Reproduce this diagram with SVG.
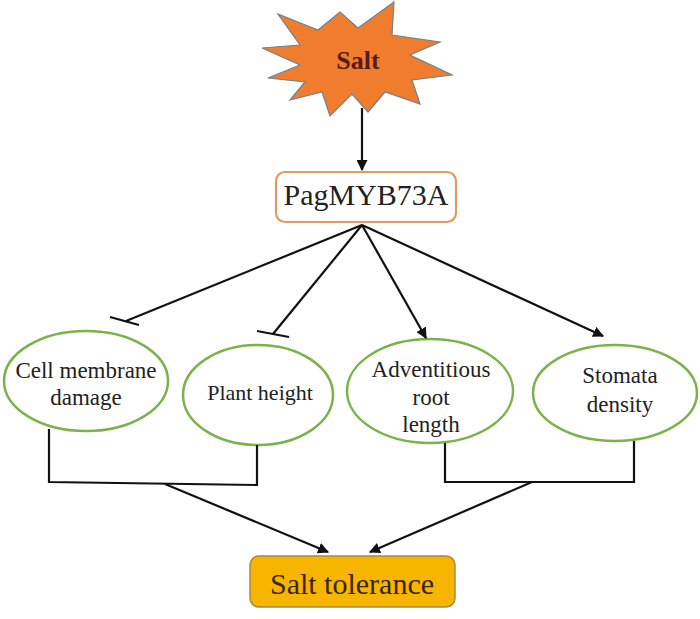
<svg xmlns="http://www.w3.org/2000/svg" width="700" height="619" viewBox="0 0 700 619">
<defs>
<style>
text{font-family:'Liberation Serif','Times New Roman',serif}
.t{fill:#222;text-anchor:middle}
.ell{fill:#fff;stroke:#7bb24a;stroke-width:2.5}
.ln{stroke:#111;stroke-width:2.2;fill:none}
</style>
<marker id="ah" viewBox="0 0 10 10" refX="9" refY="5" markerWidth="5" markerHeight="5" orient="auto" markerUnits="strokeWidth">
<path d="M0,0 L10,5 L0,10 z" fill="#111"/>
</marker>
</defs>
<rect width="700" height="619" fill="#fff"/>
<g font-family="Liberation Serif, serif">
<g id="salt">
<polygon points="278,14 318,30 340,12 358,28 394,2 392,35 440,42 410,55 452,75 412,80 420,104 385,92 368,112 352,94 330,116 322,92 290,100 305,82 268,78 300,65 262,48 300,45" fill="#f07d2e" stroke="#6f7f95" stroke-width="1.2"/>
<text class="t" x="358" y="69" font-size="26" font-weight="bold" style="fill:#5a1c0e">Salt</text>
</g>
<g id="pagmyb73a">
<rect x="276" y="172" width="180" height="50" rx="9" fill="#fff" stroke="#e39a62" stroke-width="2.2"/>
<text class="t" x="366" y="205" font-size="30">PagMYB73A</text>
</g>
<g id="cell-membrane">
<ellipse class="ell" cx="86" cy="381" rx="82" ry="50"/>
<text class="t" x="86" y="378" font-size="23">Cell membrane</text>
<text class="t" x="86" y="405" font-size="23">damage</text>
</g>
<g id="plant-height">
<ellipse class="ell" cx="258" cy="395" rx="75" ry="50"/>
<text class="t" x="260" y="400" font-size="22">Plant height</text>
</g>
<g id="adventitious">
<ellipse class="ell" cx="430" cy="391" rx="83" ry="52"/>
<text class="t" x="431" y="377" font-size="23">Adventitious</text>
<text class="t" x="431" y="405" font-size="23">root</text>
<text class="t" x="431" y="432" font-size="23">length</text>
</g>
<g id="stomata">
<ellipse class="ell" cx="615" cy="393" rx="82" ry="48"/>
<text class="t" x="620" y="383" font-size="23">Stomata</text>
<text class="t" x="620" y="412" font-size="23">density</text>
</g>
<g id="salt-tolerance">
<rect x="250" y="556" width="205" height="51" rx="9" fill="#f7b500" stroke="#a88a40" stroke-width="1.5"/>
<text class="t" x="352" y="594" font-size="30" style="fill:#3a2600">Salt tolerance</text>
</g>
</g>
<g id="connectors">
<line class="ln" x1="362" y1="108" x2="362" y2="170" marker-end="url(#ah)"/>
<line class="ln" x1="362" y1="225" x2="126" y2="321"/>
<line class="ln" x1="110" y1="317" x2="139" y2="325" stroke-width="3"/>
<line class="ln" x1="362" y1="225" x2="273" y2="334"/>
<line class="ln" x1="257" y1="331" x2="289" y2="337" stroke-width="3"/>
<line class="ln" x1="362" y1="225" x2="426" y2="338" marker-end="url(#ah)"/>
<line class="ln" x1="362" y1="225" x2="603" y2="336" marker-end="url(#ah)"/>
<polyline class="ln" points="49,429 49,482 257,485 257,445"/>
<polyline class="ln" points="445,443 445,482 634,482 634,441"/>
<line class="ln" x1="165" y1="484" x2="328" y2="552" marker-end="url(#ah)"/>
<line class="ln" x1="532" y1="482" x2="370" y2="552" marker-end="url(#ah)"/>
</g>
</svg>
